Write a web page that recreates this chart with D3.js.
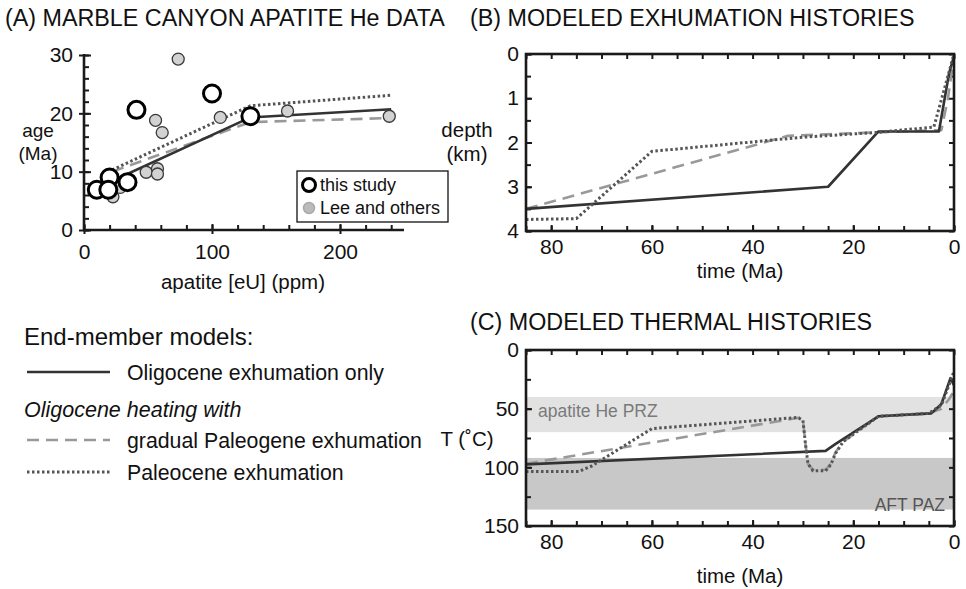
<!DOCTYPE html>
<html>
<head>
<meta charset="utf-8">
<script src="https://cdn.jsdelivr.net/npm/d3@7"></script>
<style>
  html, body { margin: 0; padding: 0; background: #fff; }
  svg { display: block; font-family: "Liberation Sans", Arial, Helvetica, sans-serif; }
</style>
</head>
<body>
<svg id="fig" width="966" height="589"></svg>
<script>
// ---- Panel A: apatite (U-Th)/He ages vs effective uranium ----
const thisStudyEU  = [10, 20, 19, 34, 41, 100, 130];
const thisStudyAge = [6.9, 9.0, 6.9, 8.2, 20.6, 23.4, 19.5];
const leeEU  = [22.6, 28.3, 48.6, 57.4, 57.4, 55.9, 61.1, 73.6, 106.5, 159, 238.5];
const leeAge = [5.7, 7.3, 9.9, 10.5, 9.6, 18.8, 16.7, 29.3, 19.3, 20.4, 19.5];

// predicted age–eU curves of the three end-member models
const modelEU        = [22, 130, 240];
const ageOligOnly    = [8.4, 19.3, 20.7];
const ageGradual     = [10.0, 18.5, 19.2];
const agePaleocene   = [10.3, 21.3, 23.1];

const eUTicks  = [0, 100, 200];
const ageTicks = [0, 10, 20, 30];

// ---- Panel B: depth histories ----
const depthOligOnlyT = [85, 25, 15, 3, 1, 0];
const depthOligOnlyZ = [3.5, 3.0, 1.75, 1.75, 0.45, 0.05];
const depthGradualT  = [85, 33, 15, 2.5, 1.2, 0];
const depthGradualZ  = [3.5, 1.85, 1.77, 1.72, 1.0, 0.05];
const depthPaleoT    = [85, 75, 60, 30, 15, 4, 0];
const depthPaleoZ    = [3.74, 3.72, 2.2, 1.88, 1.77, 1.65, 0.0];
const depthTicks = [0, 1, 2, 3, 4];
const timeTicks  = [80, 60, 40, 20, 0];

// ---- Panel C: temperature histories ----
const tempOligOnlyT = [85, 25.5, 23.5, 15, 4.5, 2.5, 0.7, 0];
const tempOligOnlyC = [97.5, 86, 80, 56.5, 54, 46, 24, 30];
const tempGradualT  = [85, 30.5, 30, 29.5, 29, 28, 25.5, 24.5, 23.5, 22, 15, 5, 2.5, 1, 0];
const tempGradualC  = [97, 57.5, 60, 80, 97, 102, 102, 97, 87, 78, 56.5, 54, 50, 42, 35];
const tempPaleoT    = [85, 74.5, 72, 60, 31, 30, 29.5, 29, 28, 25.5, 24.5, 23.5, 22, 15, 5, 2.5, 1, 0];
const tempPaleoC    = [103.5, 103.5, 99, 67, 57.5, 60, 80, 97, 103, 103, 98, 88, 78, 56.5, 54, 47, 30, 18];
const tempTicks = [0, 50, 100, 150];
const prz = [40, 70];   // apatite He partial retention zone (°C)
const paz = [92, 136];  // apatite fission-track partial annealing zone (°C)

// ---- legend entries ----
const modelNames = ["Oligocene exhumation only", "gradual Paleogene exhumation", "Paleocene exhumation"];

const styles = {
  solid:  { stroke: "#333", width: 2.6, dash: null },
  dashed: { stroke: "#999", width: 2.6, dash: "12,7" },
  dotted: { stroke: "#555", width: 3,   dash: "2.5,2.5" }
};

const svg = d3.select("#fig");
const axisColor = "#1a1a1a";
const fmtInt = d3.format("d");

function styleLine(sel, s) {
  sel.attr("fill", "none").attr("stroke", s.stroke).attr("stroke-width", s.width)
     .attr("stroke-linejoin", "round");
  if (s.dash) sel.attr("stroke-dasharray", s.dash);
  return sel;
}
function drawSeries(g, xs, ys, x, y, s) {
  const pts = xs.map((v, i) => [v, ys[i]]);
  const line = d3.line().x(d => x(d[0])).y(d => y(d[1]));
  styleLine(g.append("path").attr("d", line(pts)), s);
}
function cleanAxis(g, fs) {
  g.select(".domain").remove();
  g.selectAll(".tick line").attr("stroke", axisColor).attr("stroke-width", 2);
  g.selectAll(".tick text").attr("fill", "#111").attr("font-size", fs)
   .attr("font-family", "Liberation Sans, Arial, sans-serif");
}
function range(a, b, step) { return d3.range(a, b + step / 2, step); }

// ================= Panel A =================
const xA = d3.scaleLinear().domain([0, 250]).range([84, 404]);
const yA = d3.scaleLinear().domain([0, 30]).range([230, 55]);
const gA = svg.append("g");

svg.append("text").attr("x", 5).attr("y", 26).attr("font-size", 23.3).attr("fill", "#111")
   .text("(A) MARBLE CANYON APATITE He DATA");

// minor ticks
gA.append("g").attr("transform", `translate(${xA(0)},0)`)
  .call(d3.axisRight(yA).tickValues(range(0, 30, 2)).tickSize(5).tickFormat(""))
  .call(g => cleanAxis(g, 20));
gA.append("g").attr("transform", `translate(0,${yA(0)})`)
  .call(d3.axisTop(xA).tickValues(range(0, 240, 20)).tickSize(5).tickFormat(""))
  .call(g => cleanAxis(g, 20));
// major ticks and labels
gA.append("g").attr("transform", `translate(${xA(0)},0)`)
  .call(d3.axisLeft(yA).tickValues(ageTicks).tickFormat(fmtInt).tickSizeInner(5).tickSizeOuter(0).tickPadding(6))
  .call(g => cleanAxis(g, 21))
  .call(g => g.selectAll(".tick line").attr("x2", -5).attr("x1", 7));
gA.append("g").attr("transform", `translate(0,${yA(0)})`)
  .call(d3.axisBottom(xA).tickValues(eUTicks).tickFormat(fmtInt).tickSizeInner(4).tickSizeOuter(0).tickPadding(10))
  .call(g => cleanAxis(g, 21))
  .call(g => g.selectAll(".tick line").attr("y1", -6));
// axis lines
gA.append("line").attr("x1", xA(0)).attr("x2", xA(0)).attr("y1", yA(30) - 1).attr("y2", yA(0) + 1)
  .attr("stroke", axisColor).attr("stroke-width", 2.6);
gA.append("line").attr("x1", xA(0) - 1).attr("x2", xA(250)).attr("y1", yA(0)).attr("y2", yA(0))
  .attr("stroke", axisColor).attr("stroke-width", 2.6);

gA.append("text").attr("x", 243).attr("y", 289).attr("text-anchor", "middle").attr("font-size", 20.5)
  .attr("fill", "#111").text("apatite [eU] (ppm)");
gA.append("text").attr("x", 38).attr("y", 137).attr("text-anchor", "middle").attr("font-size", 19)
  .attr("fill", "#111").text("age");
gA.append("text").attr("x", 38).attr("y", 160).attr("text-anchor", "middle").attr("font-size", 19)
  .attr("fill", "#111").text("(Ma)");

drawSeries(gA, modelEU, ageGradual, xA, yA, styles.dashed);
drawSeries(gA, modelEU, ageOligOnly, xA, yA, styles.solid);
drawSeries(gA, modelEU, agePaleocene, xA, yA, styles.dotted);

gA.selectAll("circle.lee").data(leeEU.map((v, i) => [v, leeAge[i]])).join("circle")
  .attr("class", "lee").attr("cx", d => xA(d[0])).attr("cy", d => yA(d[1])).attr("r", 6)
  .attr("fill", "#d2d2d2").attr("stroke", "#3a3a3a").attr("stroke-width", 1.3);
gA.selectAll("circle.ts").data(thisStudyEU.map((v, i) => [v, thisStudyAge[i]])).join("circle")
  .attr("class", "ts").attr("cx", d => xA(d[0])).attr("cy", d => yA(d[1])).attr("r", 8.5)
  .attr("fill", "#fff").attr("stroke", "#000").attr("stroke-width", 3);

// data legend
const lg = gA.append("g");
lg.append("rect").attr("x", 297).attr("y", 171).attr("width", 151).attr("height", 51)
  .attr("fill", "#fff").attr("stroke", "#111").attr("stroke-width", 1.3);
lg.append("circle").attr("cx", 309).attr("cy", 185).attr("r", 6.5).attr("fill", "#fff")
  .attr("stroke", "#000").attr("stroke-width", 3);
lg.append("circle").attr("cx", 309).attr("cy", 208).attr("r", 5.5).attr("fill", "#bbb")
  .attr("stroke", "#aaa").attr("stroke-width", 1.5);
lg.append("text").attr("x", 320).attr("y", 191).attr("font-size", 18).attr("fill", "#111").text("this study");
lg.append("text").attr("x", 320).attr("y", 214).attr("font-size", 18).attr("fill", "#111").text("Lee and others");

// ================= model legend =================
const ml = svg.append("g");
ml.append("text").attr("x", 24).attr("y", 345).attr("font-size", 24).attr("fill", "#111").text("End-member models:");
const legendRows = [
  { y: 372, s: styles.solid, name: modelNames[0] },
  { y: 440, s: styles.dashed, name: modelNames[1] },
  { y: 472, s: styles.dotted, name: modelNames[2] }
];
legendRows.forEach(r => {
  styleLine(ml.append("line").attr("x1", 27).attr("x2", 110).attr("y1", r.y).attr("y2", r.y), r.s);
  ml.append("text").attr("x", 127).attr("y", r.y + 7.5).attr("font-size", 21.3).attr("fill", "#111").text(r.name);
});
ml.append("text").attr("x", 24).attr("y", 417).attr("font-size", 21.5).attr("font-style", "italic")
  .attr("fill", "#111").text("Oligocene heating with");

// ================= framed time panels =================
function framedPanel(opts) {
  const { x, y, yMinor, yMajor, title, titleY, ylab, ylabY, xlabY } = opts;
  const g = svg.append("g");
  const [x0, x1] = x.range(), [y0, y1] = y.range();
  svg.append("text").attr("x", 470).attr("y", titleY).attr("font-size", 23.3).attr("fill", "#111").text(title);
  opts.under && opts.under(g);
  // inward minor ticks on all four sides
  const tx = range(0, 85, 5);
  g.append("g").attr("transform", `translate(0,${y1})`)
    .call(d3.axisTop(x).tickValues(tx).tickSize(-5).tickFormat("")).call(a => cleanAxis(a, 20));
  g.append("g").attr("transform", `translate(0,${y0})`)
    .call(d3.axisBottom(x).tickValues(tx).tickSize(-5).tickFormat("")).call(a => cleanAxis(a, 20));
  g.append("g").attr("transform", `translate(${x0},0)`)
    .call(d3.axisLeft(y).tickValues(yMinor).tickSize(-5).tickFormat("")).call(a => cleanAxis(a, 20));
  g.append("g").attr("transform", `translate(${x1},0)`)
    .call(d3.axisRight(y).tickValues(yMinor).tickSize(-5).tickFormat("")).call(a => cleanAxis(a, 20));
  // labelled majors
  g.append("g").attr("transform", `translate(0,${y0})`)
    .call(d3.axisBottom(x).tickValues(timeTicks).tickFormat(fmtInt).tickSize(-6).tickPadding(8))
    .call(a => cleanAxis(a, 21));
  g.append("g").attr("transform", `translate(${x0},0)`)
    .call(d3.axisLeft(y).tickValues(yMajor).tickFormat(fmtInt).tickSize(-6).tickPadding(7))
    .call(a => cleanAxis(a, 21));
  opts.lines(g);
  g.append("rect").attr("x", x0).attr("y", y1).attr("width", x1 - x0).attr("height", y0 - y1)
    .attr("fill", "none").attr("stroke", axisColor).attr("stroke-width", 2.6);
  ylab.forEach((t, i) => g.append("text").attr("x", 467).attr("y", ylabY + i * 24)
    .attr("text-anchor", "middle").attr("font-size", 20.5).attr("fill", "#111").text(t));
  g.append("text").attr("x", (x0 + x1) / 2).attr("y", xlabY).attr("text-anchor", "middle")
    .attr("font-size", 20.5).attr("fill", "#111").text("time (Ma)");
  return g;
}

const xT = d3.scaleLinear().domain([85, 0]).range([526, 954]);

// Panel B
const yB = d3.scaleLinear().domain([4, 0]).range([231, 54]);
framedPanel({
  x: xT, y: yB, yMinor: range(0, 4, 0.5), yMajor: depthTicks,
  title: "(B) MODELED EXHUMATION HISTORIES", titleY: 26,
  ylab: ["depth", "(km)"], ylabY: 137, xlabY: 278,
  lines: g => {
    drawSeries(g, depthGradualT, depthGradualZ, xT, yB, styles.dashed);
    drawSeries(g, depthOligOnlyT, depthOligOnlyZ, xT, yB, styles.solid);
    drawSeries(g, depthPaleoT, depthPaleoZ, xT, yB, styles.dotted);
  }
});

// Panel C
const yC = d3.scaleLinear().domain([150, 0]).range([526, 350]);
framedPanel({
  x: xT, y: yC, yMinor: range(0, 150, 25), yMajor: tempTicks,
  title: "(C) MODELED THERMAL HISTORIES", titleY: 330,
  ylab: ["T (˚C)"], ylabY: 446, xlabY: 583,
  under: g => {
    g.append("rect").attr("x", xT(85)).attr("width", xT(0) - xT(85))
      .attr("y", yC(prz[0])).attr("height", yC(prz[1]) - yC(prz[0])).attr("fill", "#e2e2e2");
    g.append("rect").attr("x", xT(85)).attr("width", xT(0) - xT(85))
      .attr("y", yC(paz[0])).attr("height", yC(paz[1]) - yC(paz[0])).attr("fill", "#c8c8c8");
    g.append("text").attr("x", 538).attr("y", 417).attr("font-size", 17.5).attr("fill", "#7a7a7a")
      .text("apatite He PRZ");
    g.append("text").attr("x", 945).attr("y", 511).attr("text-anchor", "end").attr("font-size", 17.5)
      .attr("fill", "#555").text("AFT PAZ");
  },
  lines: g => {
    drawSeries(g, tempGradualT, tempGradualC, xT, yC, styles.dashed);
    drawSeries(g, tempOligOnlyT, tempOligOnlyC, xT, yC, styles.solid);
    drawSeries(g, tempPaleoT, tempPaleoC, xT, yC, styles.dotted);
  }
});
</script>
</body>
</html>
